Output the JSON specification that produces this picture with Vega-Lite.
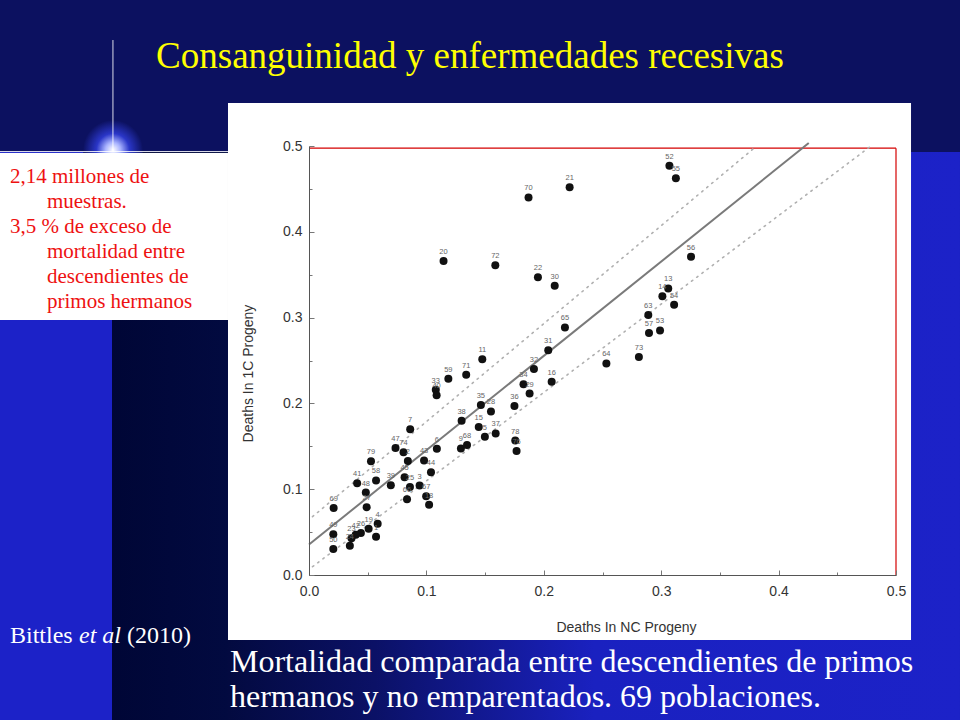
{
  "$schema": "https://vega.github.io/schema/vega-lite/v6.json",
  "width": 587,
  "height": 429,
  "autosize": {"type": "none"},
  "padding": {"left": 309, "top": 146, "right": 64, "bottom": 145},
  "background": "#0c1160",
  "config": {"view": {"stroke": null}},
  "datasets": {
    "pops": [
      {"id": "52", "nc": 0.307, "c1": 0.477},
      {"id": "55", "nc": 0.3125, "c1": 0.4625},
      {"id": "21", "nc": 0.222, "c1": 0.452},
      {"id": "70", "nc": 0.187, "c1": 0.44},
      {"id": "20", "nc": 0.1146, "c1": 0.366},
      {"id": "72", "nc": 0.1587, "c1": 0.361},
      {"id": "22", "nc": 0.195, "c1": 0.347},
      {"id": "30", "nc": 0.2093, "c1": 0.337},
      {"id": "56", "nc": 0.3254, "c1": 0.371},
      {"id": "13", "nc": 0.306, "c1": 0.334},
      {"id": "14", "nc": 0.301, "c1": 0.325},
      {"id": "54", "nc": 0.311, "c1": 0.315},
      {"id": "63", "nc": 0.289, "c1": 0.303},
      {"id": "57", "nc": 0.2896, "c1": 0.282},
      {"id": "53", "nc": 0.299, "c1": 0.285},
      {"id": "65", "nc": 0.218, "c1": 0.2885},
      {"id": "31", "nc": 0.2038, "c1": 0.262},
      {"id": "64", "nc": 0.2533, "c1": 0.2466},
      {"id": "73", "nc": 0.281, "c1": 0.254},
      {"id": "11", "nc": 0.1476, "c1": 0.2514},
      {"id": "59", "nc": 0.1187, "c1": 0.2288},
      {"id": "71", "nc": 0.1339, "c1": 0.2333},
      {"id": "32", "nc": 0.1916, "c1": 0.2401},
      {"id": "16", "nc": 0.2067, "c1": 0.2252},
      {"id": "34", "nc": 0.1827, "c1": 0.2224},
      {"id": "29", "nc": 0.1879, "c1": 0.2115},
      {"id": "33", "nc": 0.108, "c1": 0.216},
      {"id": "40", "nc": 0.1087, "c1": 0.2095},
      {"id": "35", "nc": 0.1464, "c1": 0.198},
      {"id": "28", "nc": 0.155, "c1": 0.1906},
      {"id": "36", "nc": 0.175, "c1": 0.197},
      {"id": "38", "nc": 0.13, "c1": 0.1797},
      {"id": "15", "nc": 0.1446, "c1": 0.1724},
      {"id": "5", "nc": 0.1498, "c1": 0.1612},
      {"id": "37", "nc": 0.159, "c1": 0.165},
      {"id": "78", "nc": 0.1757, "c1": 0.1567},
      {"id": "76", "nc": 0.1768, "c1": 0.1446},
      {"id": "9", "nc": 0.1294, "c1": 0.1475},
      {"id": "68", "nc": 0.1346, "c1": 0.1515},
      {"id": "7", "nc": 0.0862, "c1": 0.1698},
      {"id": "47", "nc": 0.0737, "c1": 0.148},
      {"id": "74", "nc": 0.0805, "c1": 0.1432},
      {"id": "2", "nc": 0.0842, "c1": 0.1329},
      {"id": "6", "nc": 0.1089, "c1": 0.147},
      {"id": "43", "nc": 0.098, "c1": 0.1335},
      {"id": "44", "nc": 0.1039, "c1": 0.1197},
      {"id": "79", "nc": 0.0528, "c1": 0.1327},
      {"id": "41", "nc": 0.041, "c1": 0.107},
      {"id": "58", "nc": 0.0571, "c1": 0.1102},
      {"id": "39", "nc": 0.0697, "c1": 0.1046},
      {"id": "48", "nc": 0.0484, "c1": 0.0961},
      {"id": "27", "nc": 0.0491, "c1": 0.0791},
      {"id": "69", "nc": 0.021, "c1": 0.0782},
      {"id": "45", "nc": 0.0814, "c1": 0.114},
      {"id": "25", "nc": 0.086, "c1": 0.1026},
      {"id": "3", "nc": 0.0942, "c1": 0.1042},
      {"id": "66", "nc": 0.0835, "c1": 0.0884},
      {"id": "67", "nc": 0.0998, "c1": 0.0918},
      {"id": "18", "nc": 0.1023, "c1": 0.0819},
      {"id": "49", "nc": 0.0207, "c1": 0.0475},
      {"id": "50", "nc": 0.0207, "c1": 0.0302},
      {"id": "4", "nc": 0.0585, "c1": 0.0597},
      {"id": "19", "nc": 0.0508, "c1": 0.054},
      {"id": "1", "nc": 0.0571, "c1": 0.0445},
      {"id": "26", "nc": 0.0442, "c1": 0.049},
      {"id": "42", "nc": 0.0398, "c1": 0.047},
      {"id": "23", "nc": 0.0362, "c1": 0.0428},
      {"id": "24", "nc": 0.0348, "c1": 0.034}
    ],
    "fits": [
      {"line": "fit", "nc": 0.0, "c1": 0.0355},
      {"line": "fit", "nc": 0.4257, "c1": 0.5035},
      {"line": "upper", "nc": 0.003, "c1": 0.068},
      {"line": "upper", "nc": 0.3813, "c1": 0.5},
      {"line": "lower", "nc": 0.003, "c1": 0.0097},
      {"line": "lower", "nc": 0.4787, "c1": 0.5}
    ]
  },
  "layer": [
    {
      "data": {"values": [{}]},
      "mark": {"type": "rect", "color": "#1c22c8"},
      "encoding": {
        "x": {"datum": -0.2632, "type": "quantitative"},
        "x2": {"datum": -0.1678},
        "y": {"datum": 0.493, "type": "quantitative"},
        "y2": {"datum": -0.169}
      }
    },
    {
      "data": {"values": [{}]},
      "mark": {"type": "rect", "color": {"gradient": "linear", "x1": 0, "y1": 0, "x2": 1, "y2": 0, "stops": [{"offset": 0, "color": "#000636"}, {"offset": 1, "color": "#020a40"}]}},
      "encoding": {
        "x": {"datum": -0.1678, "type": "quantitative"},
        "x2": {"datum": -0.069},
        "y": {"datum": 0.493, "type": "quantitative"},
        "y2": {"datum": -0.169}
      }
    },
    {
      "data": {"values": [{}]},
      "mark": {"type": "rect", "color": {"gradient": "linear", "x1": 0, "y1": 0, "x2": 1, "y2": 0, "stops": [{"offset": 0, "color": "#030a40"}, {"offset": 0.2, "color": "#0b1166"}, {"offset": 0.5, "color": "#1a21c0"}, {"offset": 1, "color": "#1c22c8"}]}},
      "encoding": {
        "x": {"datum": -0.069, "type": "quantitative"},
        "x2": {"datum": 0.5545},
        "y": {"datum": 0.493, "type": "quantitative"},
        "y2": {"datum": -0.169}
      }
    },
    {
      "data": {"values": [{}]},
      "mark": {"type": "point", "filled": true, "size": 3600, "opacity": 1, "fill": {"gradient": "radial", "x1": 0.5, "y1": 0.5, "r1": 0, "x2": 0.5, "y2": 0.5, "r2": 0.5, "stops": [{"offset": 0, "color": "#ffffff"}, {"offset": 0.25, "color": "#aab4ff"}, {"offset": 0.55, "color": "#2a36c8"}, {"offset": 1, "color": "#0c1160"}]}},
      "encoding": {
        "x": {"datum": -0.167, "type": "quantitative"},
        "y": {"datum": 0.4953, "type": "quantitative"}
      }
    },
    {
      "data": {"values": [{}]},
      "mark": {"type": "rule", "color": "#ffffff", "strokeWidth": 1, "opacity": 0.85},
      "encoding": {
        "x": {"datum": -0.167, "type": "quantitative"},
        "y": {"datum": 0.6235, "type": "quantitative"},
        "y2": {"datum": 0.493}
      }
    },
    {
      "data": {"values": [{}]},
      "mark": {"type": "rule", "color": "#ffffff", "strokeWidth": 1, "opacity": 0.9},
      "encoding": {
        "x": {"datum": -0.2632, "type": "quantitative"},
        "x2": {"datum": -0.069},
        "y": {"datum": 0.4935, "type": "quantitative"}
      }
    },
    {
      "data": {"values": [{}]},
      "mark": {"type": "rect", "color": "#ffffff"},
      "encoding": {
        "x": {"datum": -0.2632, "type": "quantitative"},
        "x2": {"datum": -0.069},
        "y": {"datum": 0.4918, "type": "quantitative"},
        "y2": {"datum": 0.2972}
      }
    },
    {
      "data": {"values": [{}]},
      "mark": {"type": "rect", "color": "#ffffff"},
      "encoding": {
        "x": {"datum": -0.069, "type": "quantitative"},
        "x2": {"datum": 0.5128},
        "y": {"datum": 0.5501, "type": "quantitative"},
        "y2": {"datum": -0.0758}
      }
    },
    {
      "data": {"values": [{}]},
      "mark": {"type": "rule", "color": "#d40000", "strokeWidth": 1.2},
      "encoding": {
        "x": {"datum": 0, "type": "quantitative"},
        "x2": {"datum": 0.5},
        "y": {"datum": 0.4975, "type": "quantitative"}
      }
    },
    {
      "data": {"values": [{}]},
      "mark": {"type": "rule", "color": "#d40000", "strokeWidth": 1.2},
      "encoding": {
        "x": {"datum": 0.5, "type": "quantitative"},
        "y": {"datum": 0, "type": "quantitative"},
        "y2": {"datum": 0.4975}
      }
    },
    {
      "data": {"name": "fits"},
      "transform": [{"filter": "datum.line === 'fit'"}],
      "mark": {"type": "line", "color": "#7a7a7a", "strokeWidth": 2},
      "encoding": {
        "x": {"field": "nc", "type": "quantitative"},
        "y": {"field": "c1", "type": "quantitative"}
      }
    },
    {
      "data": {"name": "fits"},
      "transform": [{"filter": "datum.line !== 'fit'"}],
      "mark": {"type": "line", "color": "#b0b0b0", "strokeWidth": 1.6, "strokeDash": [1.5, 5], "strokeCap": "round"},
      "encoding": {
        "x": {"field": "nc", "type": "quantitative"},
        "y": {"field": "c1", "type": "quantitative"},
        "detail": {"field": "line"}
      }
    },
    {
      "data": {"name": "pops"},
      "mark": {"type": "circle", "color": "#111111", "opacity": 1, "size": 64},
      "encoding": {
        "x": {
          "field": "nc", "type": "quantitative",
          "scale": {"domain": [0, 0.5], "nice": false, "zero": false},
          "axis": {
            "title": "Deaths In NC Progeny",
            "values": [0, 0.025, 0.05, 0.075, 0.1, 0.125, 0.15, 0.175, 0.2, 0.225, 0.25, 0.275, 0.3, 0.325, 0.35, 0.375, 0.4, 0.425, 0.45, 0.475, 0.5],
            "labelExpr": "round(datum.value*40) % 4 == 0 ? format(datum.value, '.1f') : ''",
            "labelOverlap": false,
            "labelFlush": false,
            "grid": false,
            "domainColor": "#555555",
            "tickColor": "#777777",
            "tickSize": {"condition": {"test": "round(datum.value*40) % 4 == 0", "value": -5}, "value": -3},
            "labelPadding": 14,
            "labelFont": "Liberation Sans",
            "labelFontSize": 14,
            "labelColor": "#333333",
            "titleFont": "Liberation Sans",
            "titleFontSize": 14,
            "titleFontWeight": "normal",
            "titleColor": "#333333",
            "titleX": 317,
            "titleY": 56,
            "titleBaseline": "alphabetic",
            "zindex": 1
          }
        },
        "y": {
          "field": "c1", "type": "quantitative",
          "scale": {"domain": [0, 0.5], "nice": false, "zero": false},
          "axis": {
            "title": "Deaths In 1C Progeny",
            "values": [0, 0.025, 0.05, 0.075, 0.1, 0.125, 0.15, 0.175, 0.2, 0.225, 0.25, 0.275, 0.3, 0.325, 0.35, 0.375, 0.4, 0.425, 0.45, 0.475, 0.5],
            "labelExpr": "round(datum.value*40) % 4 == 0 ? format(datum.value, '.1f') : ''",
            "labelOverlap": false,
            "labelFlush": false,
            "grid": false,
            "domainColor": "#555555",
            "tickColor": "#777777",
            "tickSize": {"condition": {"test": "round(datum.value*40) % 4 == 0", "value": -5}, "value": -3},
            "labelPadding": 12,
            "labelFont": "Liberation Sans",
            "labelFontSize": 14,
            "labelColor": "#333333",
            "titleFont": "Liberation Sans",
            "titleFontSize": 14,
            "titleFontWeight": "normal",
            "titleColor": "#333333",
            "titleX": -61,
            "titleY": 227,
            "titleBaseline": "middle",
            "zindex": 1
          }
        }
      }
    },
    {
      "data": {"name": "pops"},
      "mark": {"type": "text", "fontSize": 7.5, "color": "#666666", "font": "Liberation Sans", "dy": -9},
      "encoding": {
        "x": {"field": "nc", "type": "quantitative"},
        "y": {"field": "c1", "type": "quantitative"},
        "text": {"field": "id"}
      }
    },
    {
      "data": {"values": [{}]},
      "mark": {"type": "text", "font": "Liberation Serif", "fontSize": 37, "color": "#ffff00", "align": "center", "baseline": "alphabetic"},
      "encoding": {
        "x": {"datum": 0.1371, "type": "quantitative"},
        "y": {"datum": 0.591, "type": "quantitative"},
        "text": {"value": "Consanguinidad  y  enfermedades recesivas"}
      }
    },
    {
      "data": {"values": [{}]},
      "mark": {"type": "text", "font": "Liberation Serif", "fontSize": 32, "color": "#ffffff", "align": "left", "baseline": "alphabetic", "lineHeight": 35},
      "encoding": {
        "x": {"datum": -0.0673, "type": "quantitative"},
        "y": {"datum": -0.1131, "type": "quantitative"},
        "text": {"value": ["Mortalidad comparada entre descendientes de primos", "hermanos y no emparentados.  69 poblaciones."]}
      }
    },
    {
      "data": {"values": [{}]},
      "mark": {"type": "text", "font": "Liberation Serif", "fontSize": 24, "color": "#ffffff", "align": "left", "baseline": "alphabetic"},
      "encoding": {
        "x": {"datum": -0.2547, "type": "quantitative"},
        "y": {"datum": -0.0793, "type": "quantitative"},
        "text": {"value": "Bittles"}
      }
    },
    {
      "data": {"values": [{}]},
      "mark": {"type": "text", "font": "Liberation Serif", "fontSize": 24, "fontStyle": "italic", "color": "#ffffff", "align": "left", "baseline": "alphabetic"},
      "encoding": {
        "x": {"datum": -0.1959, "type": "quantitative"},
        "y": {"datum": -0.0793, "type": "quantitative"},
        "text": {"value": "et al"}
      }
    },
    {
      "data": {"values": [{}]},
      "mark": {"type": "text", "font": "Liberation Serif", "fontSize": 24, "color": "#ffffff", "align": "left", "baseline": "alphabetic"},
      "encoding": {
        "x": {"datum": -0.155, "type": "quantitative"},
        "y": {"datum": -0.0793, "type": "quantitative"},
        "text": {"value": "(2010)"}
      }
    },
    {
      "data": {"values": [{}]},
      "mark": {"type": "text", "font": "Liberation Serif", "fontSize": 21, "color": "#ee1111", "align": "left", "baseline": "alphabetic"},
      "encoding": {
        "x": {"datum": -0.2547, "type": "quantitative"},
        "y": {"datum": 0.4569, "type": "quantitative"},
        "text": {"value": "2,14 millones de"}
      }
    },
    {
      "data": {"values": [{}]},
      "mark": {"type": "text", "font": "Liberation Serif", "fontSize": 21, "color": "#ee1111", "align": "left", "baseline": "alphabetic"},
      "encoding": {
        "x": {"datum": -0.2232, "type": "quantitative"},
        "y": {"datum": 0.4277, "type": "quantitative"},
        "text": {"value": "muestras."}
      }
    },
    {
      "data": {"values": [{}]},
      "mark": {"type": "text", "font": "Liberation Serif", "fontSize": 21, "color": "#ee1111", "align": "left", "baseline": "alphabetic"},
      "encoding": {
        "x": {"datum": -0.2547, "type": "quantitative"},
        "y": {"datum": 0.3986, "type": "quantitative"},
        "text": {"value": "3,5 % de exceso de"}
      }
    },
    {
      "data": {"values": [{}]},
      "mark": {"type": "text", "font": "Liberation Serif", "fontSize": 21, "color": "#ee1111", "align": "left", "baseline": "alphabetic", "lineHeight": 25.2},
      "encoding": {
        "x": {"datum": -0.2232, "type": "quantitative"},
        "y": {"datum": 0.3695, "type": "quantitative"},
        "text": {"value": ["mortalidad entre", "descendientes de", "primos hermanos"]}
      }
    }
  ]
}
